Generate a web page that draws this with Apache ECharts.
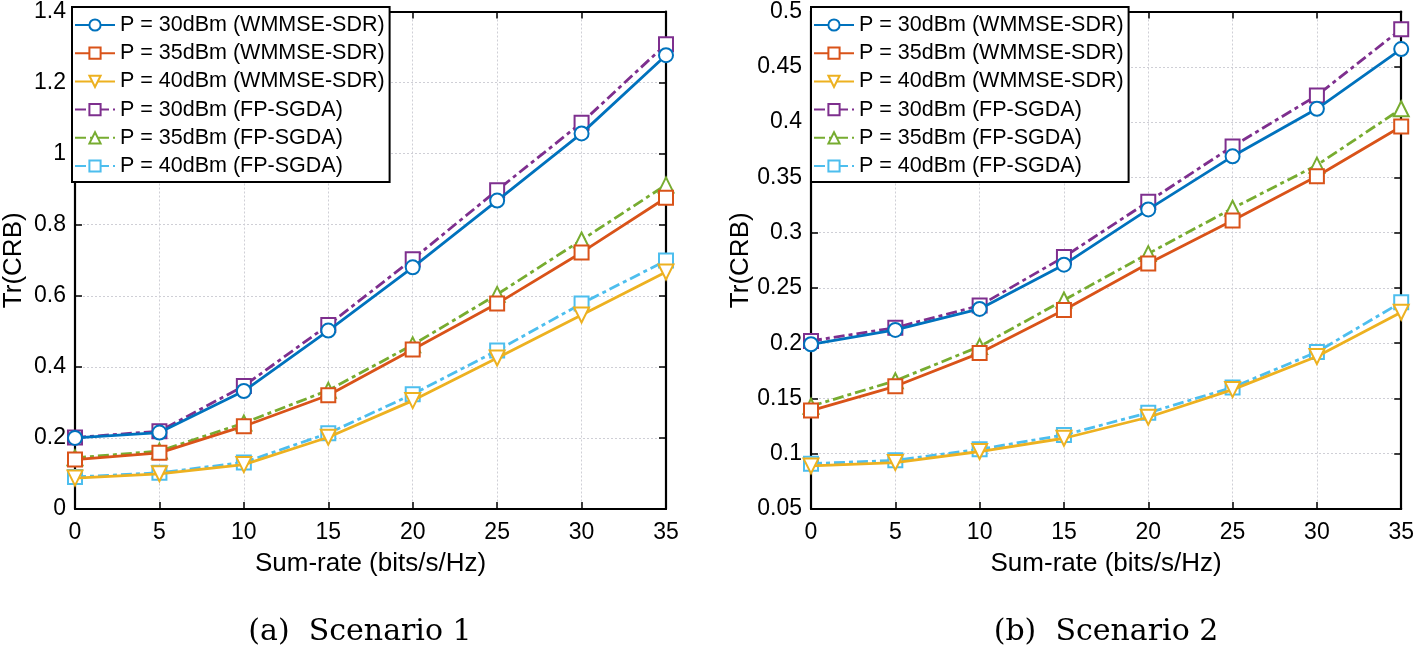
<!DOCTYPE html>
<html>
<head>
<meta charset="utf-8">
<script src="https://cdn.jsdelivr.net/npm/echarts@6/dist/echarts.min.js"></script>
<style>
  html, body { margin: 0; padding: 0; background: #fff; }
  #chart { width: 1417px; height: 648px; }
</style>
</head>
<body>
<div id="chart"></div>
<script>
// x axis: sum-rate values
const sumRate = [0, 5, 10, 15, 20, 25, 30, 35];

// series names (same for both panels)
const seriesNames = [
  'P = 30dBm (WMMSE-SDR)',
  'P = 35dBm (WMMSE-SDR)',
  'P = 40dBm (WMMSE-SDR)',
  'P = 30dBm (FP-SGDA)',
  'P = 35dBm (FP-SGDA)',
  'P = 40dBm (FP-SGDA)'
];

// scenario 1 - Tr(CRB)
const wm30S1 = [0.200, 0.215, 0.332, 0.502, 0.680, 0.868, 1.057, 1.277];
const wm35S1 = [0.139, 0.158, 0.233, 0.320, 0.449, 0.578, 0.722, 0.876];
const wm40S1 = [0.087, 0.099, 0.125, 0.202, 0.305, 0.425, 0.546, 0.667];
const fp30S1 = [0.201, 0.219, 0.346, 0.518, 0.703, 0.897, 1.087, 1.308];
const fp35S1 = [0.144, 0.163, 0.242, 0.334, 0.462, 0.604, 0.757, 0.912];
const fp40S1 = [0.090, 0.102, 0.131, 0.213, 0.323, 0.446, 0.578, 0.699];

// scenario 2 - Tr(CRB)
const wm30S2 = [0.199, 0.212, 0.231, 0.271, 0.321, 0.369, 0.412, 0.466];
const wm35S2 = [0.139, 0.161, 0.191, 0.230, 0.272, 0.311, 0.351, 0.396];
const wm40S2 = [0.089, 0.092, 0.102, 0.114, 0.133, 0.158, 0.188, 0.228];
const fp30S2 = [0.202, 0.214, 0.234, 0.278, 0.328, 0.378, 0.424, 0.484];
const fp35S2 = [0.143, 0.166, 0.197, 0.239, 0.281, 0.322, 0.361, 0.412];
const fp40S2 = [0.091, 0.094, 0.104, 0.117, 0.137, 0.160, 0.192, 0.237];

const captions = ['(a)  Scenario 1', '(b)  Scenario 2'];
const xName = 'Sum-rate (bits/s/Hz)';
const yName = 'Tr(CRB)';

// matlab default colours
const colors = ['#0072BD', '#D95319', '#EDB120', '#7E2F8E', '#77AC30', '#4DBEEE'];
const symbols = ['emptyCircle', 'emptyRect', 'emptyTriangle', 'emptyRect', 'emptyTriangle', 'emptyRect'];
const rotations = [0, 0, 180, 0, 0, 0];

const SANS = '"Liberation Sans", Arial, Helvetica, sans-serif';

const chart = echarts.init(document.getElementById('chart'), null, { renderer: 'canvas' });

function pairs(vals) {
  return sumRate.map((x, i) => [x, vals[i]]);
}

function makeSeries(lists, gridIdx) {
  return lists.map((vals, k) => ({
    name: seriesNames[k],
    type: 'line',
    xAxisIndex: gridIdx * 2,
    yAxisIndex: gridIdx * 2,
    data: pairs(vals),
    symbol: symbols[k],
    symbolSize: k == 2 || k == 4 ? 15 : 14,
    symbolRotate: rotations[k],
    showAllSymbol: true,
    color: colors[k],
    lineStyle: {
      width: 2.8,
      color: colors[k],
      type: k < 3 ? 'solid' : [11, 4, 4, 4]
    },
    itemStyle: { borderWidth: 2.5, borderColor: colors[k] },
    emphasis: { disabled: true },
    animation: false,
    z: 10 - k
  }));
}

const tick = { show: true, inside: true, length: 7, lineStyle: { color: '#000', width: 1.5 } };
const frameLine = { show: true, onZero: false, lineStyle: { color: '#000', width: 2.2 } };
const gridLine = { show: true, showMinLine: false, showMaxLine: false, lineStyle: { color: '#cfcfd6', type: [2, 2], width: 1 } };

function xAxes(gridIdx) {
  return [{
    type: 'value', gridIndex: gridIdx, min: 0, max: 35, interval: 5,
    name: xName, nameLocation: 'middle', nameGap: 42,
    nameTextStyle: { fontFamily: SANS, fontSize: 26, color: '#000' },
    axisLine: frameLine,
    axisTick: tick,
    axisLabel: { fontFamily: SANS, fontSize: 23, color: '#000', margin: 12 },
    splitLine: gridLine
  }, {
    type: 'value', gridIndex: gridIdx, min: 0, max: 35, interval: 5, position: 'top',
    axisLine: frameLine,
    axisTick: tick,
    axisLabel: { show: false },
    splitLine: { show: false }
  }];
}

function yAxes(gridIdx, min, max, step, gap) {
  return [{
    type: 'value', gridIndex: gridIdx, min: min, max: max, interval: step,
    name: yName, nameLocation: 'middle', nameGap: gap,
    nameTextStyle: { fontFamily: SANS, fontSize: 26, color: '#000' },
    axisLine: frameLine,
    axisTick: tick,
    axisLabel: {
      fontFamily: SANS, fontSize: 23, color: '#000', margin: 9,
      formatter: v => String(parseFloat(v.toFixed(4)))
    },
    splitLine: gridLine
  }, {
    type: 'value', gridIndex: gridIdx, min: min, max: max, interval: step, position: 'right',
    axisLine: frameLine,
    axisTick: tick,
    axisLabel: { show: false },
    splitLine: { show: false }
  }];
}

function makeLegend(left) {
  return {
    data: seriesNames,
    orient: 'vertical',
    left: left,
    top: 7,
    itemWidth: 40,
    itemHeight: 14,
    itemGap: 6.2,
    padding: [7, 5, 5, 2],
    borderColor: '#000',
    borderWidth: 2,
    backgroundColor: '#fff',
    selectedMode: false,
    textStyle: { fontFamily: SANS, fontSize: 21.5, color: '#000', lineHeight: 20 },
    z: 20
  };
}

const option = {
  backgroundColor: '#fff',
  animation: false,
  grid: [
    { left: 71, top: 7, width: 595, height: 502 },
    { left: 811, top: 7, width: 595, height: 502 }
  ],
  legend: [makeLegend(72), makeLegend(811)],
  xAxis: [...xAxes(0), ...xAxes(1)],
  yAxis: [...yAxes(0, 0, 1.4, 0.2, 48), ...yAxes(1, 0.05, 0.5, 0.05, 56)],
  series: [
    ...makeSeries([wm30S1, wm35S1, wm40S1, fp30S1, fp35S1, fp40S1], 0),
    ...makeSeries([wm30S2, wm35S2, wm40S2, fp30S2, fp35S2, fp40S2], 1)
  ],
  graphic: [
    {
      type: 'text', x: 360, y: 632,
      style: { text: captions[0], font: '30px "DejaVu Serif", serif', fill: '#000', align: 'center', verticalAlign: 'middle' }
    },
    {
      type: 'text', x: 1106, y: 632,
      style: { text: captions[1], font: '30px "DejaVu Serif", serif', fill: '#000', align: 'center', verticalAlign: 'middle' }
    }
  ]
};

chart.setOption(option);
</script>
</body>
</html>
